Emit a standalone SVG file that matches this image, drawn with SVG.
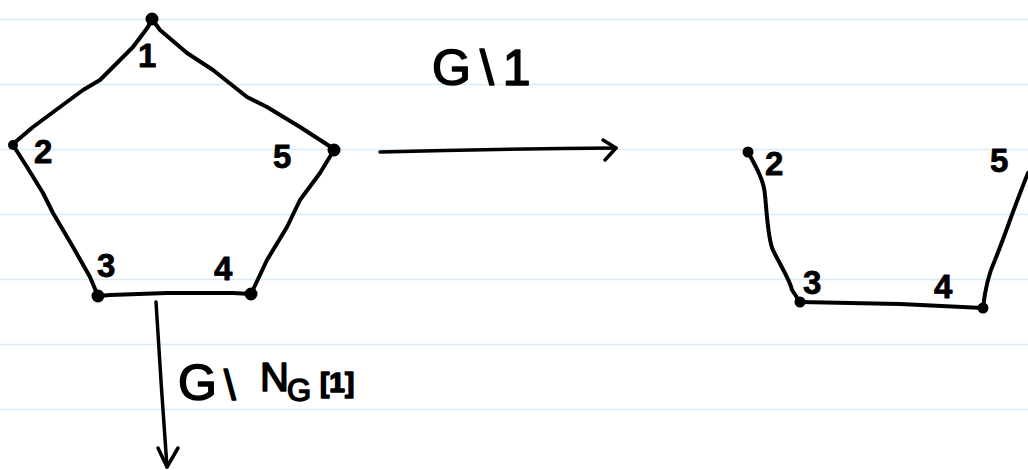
<svg xmlns="http://www.w3.org/2000/svg" width="1028" height="470" viewBox="0 0 1028 470">
  <style>
    .rule { stroke: #d8ebf8; stroke-width: 1.3; }
    .ink { fill: none; stroke: #000; stroke-width: 4; stroke-linecap: round; stroke-linejoin: round; }
    .arrow { fill: none; stroke: #000; stroke-width: 3.5; stroke-linecap: round; stroke-linejoin: round; }
    .dot { fill: #000; }
    .lbl { font-family: "Liberation Sans", "DejaVu Sans", sans-serif; font-weight: bold; font-size: 33px; fill: #000; stroke: #000; stroke-width: 0.8; stroke-linejoin: round; }
    .op { font-family: "Liberation Sans", "DejaVu Sans", sans-serif; font-size: 50px; fill: #000; stroke: #000; stroke-width: 1.6; stroke-linejoin: round; }
  </style>

  <!-- ruled paper -->
  <rect width="1028" height="470" fill="#ffffff"/>
  <g id="paper">
    <line class="rule" x1="0" y1="19.5" x2="1028" y2="19.5"/>
    <line class="rule" x1="0" y1="84.5" x2="1028" y2="84.5"/>
    <line class="rule" x1="0" y1="149.5" x2="1028" y2="149.5"/>
    <line class="rule" x1="0" y1="214.5" x2="1028" y2="214.5"/>
    <line class="rule" x1="0" y1="279.5" x2="1028" y2="279.5"/>
    <line class="rule" x1="0" y1="344.5" x2="1028" y2="344.5"/>
    <line class="rule" x1="0" y1="409.5" x2="1028" y2="409.5"/>
  </g>

  <!-- edges and operation arrows -->
  <g id="connectors">
    <!-- pentagon G -->
    <polyline class="ink" points="152,19 148,27 133,47 120,60 100,80 83,90 60,107 33,127 13,144"/>
    <polyline class="ink" points="152,19 160,30 187,53 213,70 247,97 267,107 300,127 334,149"/>
    <polyline class="ink" points="334,150 320,173 300,200 287,227 267,260 251,294"/>
    <polyline class="ink" points="13,145 27,167 43,193 53,213 73,247 90,277 98,296"/>
    <polyline class="ink" points="98,296 110,295 167,293 233,293 251,294"/>

    <!-- G \ 1 -->
    <path class="ink" d="M748,152 C755,165 764,180 765,195 C767,215 768,240 773,250 C780,265 790,280 792,290 L800,302"/>
    <polyline class="ink" points="800,302 900,304 983,308"/>
    <path class="ink" d="M983,308 C985,290 988,275 995,260 C1005,235 1015,205 1028,173"/>

    <!-- arrow to G \ 1 -->
    <path class="arrow" d="M380,152 Q500,149 616,148"/>
    <path class="arrow" d="M603,140 L616,148 L605,160"/>
    <text class="op" x="432" y="85" letter-spacing="9">G\1</text>

    <!-- arrow to G \ N_G[1] -->
    <path class="arrow" d="M156,302 Q161,385 167,467"/>
    <path class="arrow" d="M158,448 L167,467 L178,448"/>
    <text class="op" y="400"><tspan x="178">G</tspan><tspan x="224" font-size="42">\</tspan><tspan x="260" y="391" font-size="40">N</tspan><tspan x="287" y="401" font-size="31">G</tspan><tspan x="320" y="392" font-size="28" font-weight="bold">[1]</tspan></text>
  </g>

  <!-- vertices of G -->
  <g id="v1"><circle class="dot" cx="152" cy="19" r="6.5"/><text class="lbl" x="138" y="67">1</text></g>
  <g id="v2"><circle class="dot" cx="13" cy="145" r="5"/><text class="lbl" x="34" y="163">2</text></g>
  <g id="v5"><circle class="dot" cx="334" cy="150" r="6.5"/><text class="lbl" x="273" y="168">5</text></g>
  <g id="v3"><circle class="dot" cx="98" cy="296" r="6.5"/><text class="lbl" x="97" y="277">3</text></g>
  <g id="v4"><circle class="dot" cx="251" cy="294" r="6.5"/><text class="lbl" x="214" y="280">4</text></g>

  <!-- vertices of G \ 1 -->
  <g id="w2"><circle class="dot" cx="748" cy="152" r="5.5"/><text class="lbl" x="765" y="175">2</text></g>
  <g id="w5"><text class="lbl" x="990" y="172">5</text></g>
  <g id="w3"><circle class="dot" cx="800" cy="302" r="5.5"/><text class="lbl" x="803" y="294">3</text></g>
  <g id="w4"><circle class="dot" cx="983" cy="308" r="5.5"/><text class="lbl" x="934" y="298">4</text></g>
</svg>
